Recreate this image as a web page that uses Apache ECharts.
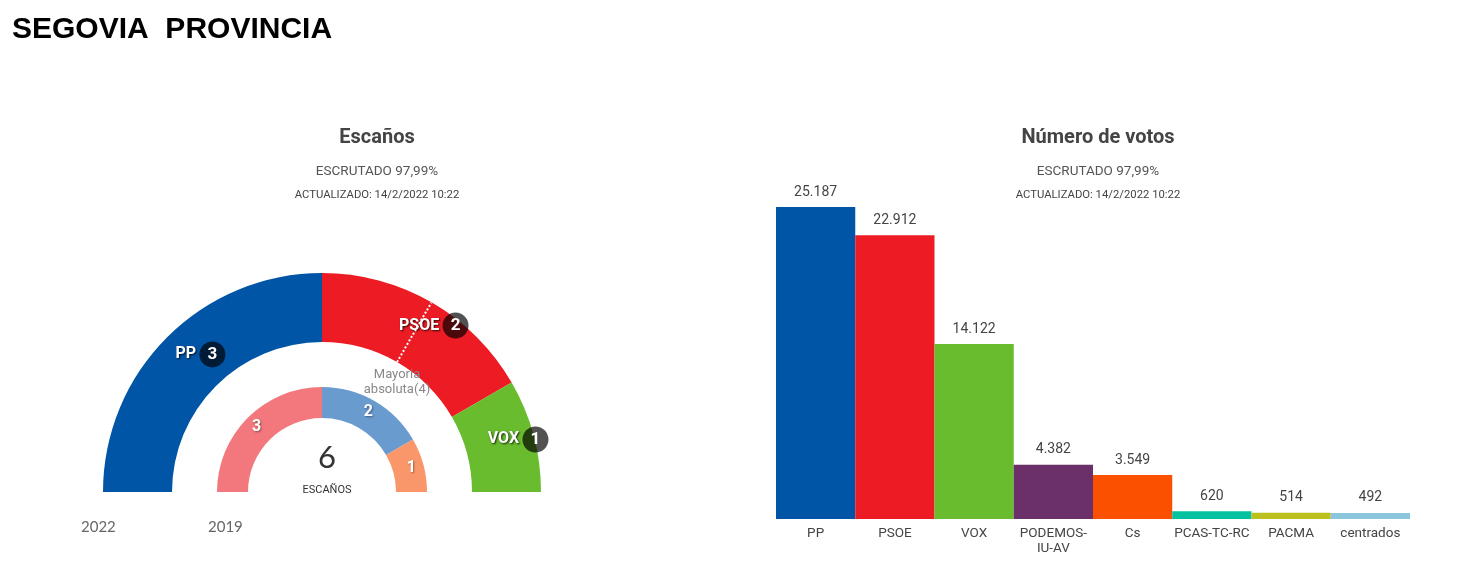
<!DOCTYPE html>
<html>
<head>
<meta charset="utf-8">
<script src="https://cdn.jsdelivr.net/npm/echarts@6/dist/echarts.min.js"></script>
<style>
html,body{margin:0;padding:0;background:#fff;}
#c{width:1471px;height:561px;}
</style>
</head>
<body>
<div id="c"></div>
<script>
// ---- data ----
var seatParties2022 = ['PP', 'PSOE', 'VOX'];
var seats2022 = [3, 2, 1];
var seatParties2019 = ['PSOE', 'PP', 'Cs'];
var seats2019 = [3, 2, 1];
var majority = 4;
var voteParties = ['PP', 'PSOE', 'VOX', 'PODEMOS-\nIU-AV', 'Cs', 'PCAS-TC-RC', 'PACMA', 'centrados'];
var votes = [25187, 22912, 14122, 4382, 3549, 620, 514, 492];
var scrutinyText = 'ESCRUTADO 97,99%';
var updatedText = 'ACTUALIZADO: 14/2/2022 10:22';

// ---- styles ----
var colors2022 = ['#0055a6', '#ed1c24', '#69bc2d'];
var colors2019 = ['#f2787d', '#6a9bcf', '#f9976b'];
var voteColors = ['#0055a6', '#ed1c24', '#69bc2d', '#6b2f69', '#fa5000', '#03c2a0', '#bcc01e', '#8ac6dc'];
var labelShift = [[11, -5], [18, -4], [15, -4]];
var CX = 322, CY = 492, R_OUT = 219, R_IN = 150;

var totalSeats = seats2022.reduce(function (a, b) { return a + b; }, 0);
function fmt(v) { return String(v).replace(/\B(?=(\d{3})+(?!\d))/g, '.'); }
var condensed = 'Roboto, sans-serif';

var chart = echarts.init(document.getElementById('c'), null, { renderer: 'canvas' });
chart.setOption({
  animation: false,
  backgroundColor: '#fff',
  title: [
    { text: 'SEGOVIA  PROVINCIA', left: 7, top: 10, textStyle: { fontFamily: 'Liberation Sans, Arial, sans-serif', fontWeight: 'bold', fontSize: 30, color: '#000' } },
    { text: 'Escaños', left: 372, textAlign: 'center', top: 123, textStyle: { fontFamily: condensed, fontWeight: 'bold', fontSize: 20, color: '#444' } },
    { text: scrutinyText, left: 372, textAlign: 'center', top: 160, textStyle: { fontFamily: condensed, fontWeight: 'normal', fontSize: 13.5, color: '#555' } },
    { text: updatedText, left: 372, textAlign: 'center', top: 185, textStyle: { fontFamily: condensed, fontWeight: 'normal', fontSize: 11.3, color: '#444' } },
    { text: 'Número de votos', left: 1093, textAlign: 'center', top: 123, textStyle: { fontFamily: condensed, fontWeight: 'bold', fontSize: 20, color: '#444' } },
    { text: scrutinyText, left: 1093, textAlign: 'center', top: 160, textStyle: { fontFamily: condensed, fontWeight: 'normal', fontSize: 13.5, color: '#555' } },
    { text: updatedText, left: 1093, textAlign: 'center', top: 185, textStyle: { fontFamily: condensed, fontWeight: 'normal', fontSize: 11.3, color: '#444' } },
    { text: String(totalSeats), left: CX, textAlign: 'center', top: 437, textStyle: { fontFamily: 'Lato, sans-serif', fontWeight: 'normal', fontSize: 31, color: '#333' } },
    { text: 'ESCAÑOS', left: CX, textAlign: 'center', top: 480, textStyle: { fontFamily: condensed, fontWeight: 'normal', fontSize: 11, color: '#333' } },
    { text: '2022', left: 76, top: 515, textStyle: { fontFamily: 'Lato, sans-serif', fontWeight: 'normal', fontSize: 15, color: '#666' } },
    { text: '2019', left: 203, top: 515, textStyle: { fontFamily: 'Lato, sans-serif', fontWeight: 'normal', fontSize: 15, color: '#666' } }
  ],
  polar: { center: [CX, CY], radius: R_OUT },
  angleAxis: { type: 'value', min: 0, max: totalSeats * 2, startAngle: 180, clockwise: true, show: false },
  radiusAxis: { type: 'value', min: 0, max: R_OUT, show: false },
  grid: { left: 776, right: 61, top: 207, bottom: 42 },
  xAxis: {
    type: 'category', data: voteParties,
    axisLine: { show: false }, axisTick: { show: false },
    axisLabel: { color: '#444', fontFamily: condensed, fontSize: 13.5, margin: 7, lineHeight: 15, interval: 0 }
  },
  yAxis: { type: 'value', min: 0, max: 'dataMax', show: false, splitLine: { show: false } },
  series: [
    {
      type: 'pie', silent: true, center: [CX, CY], radius: [R_IN, R_OUT],
      startAngle: 180, endAngle: 0, clockwise: true,
      data: seatParties2022.map(function (n, i) { return { name: n, value: seats2022[i], itemStyle: { color: colors2022[i] } }; }),
      label: {
        show: true, position: 'inside',
        formatter: function (p) { return '{n|' + p.name + '} {c|' + p.value + '}'; },
        rich: {
          n: { color: '#fff', fontFamily: condensed, fontWeight: 'bold', fontSize: 16, textShadowColor: 'rgba(0,0,0,0.8)', textShadowBlur: 2, textShadowOffsetX: 1, textShadowOffsetY: 1 },
          c: { color: '#fff', fontFamily: condensed, fontWeight: 'bold', fontSize: 17, backgroundColor: 'rgba(0,0,0,0.68)', borderRadius: 13, width: 26, height: 26, align: 'center', lineHeight: 26 }
        }
      },
      labelLayout: function (p) { var s = labelShift[p.dataIndex] || [0, 0]; return { dx: s[0], dy: s[1] }; },
      labelLine: { show: false },
      emphasis: { disabled: true }
    },
    {
      type: 'pie', silent: true, center: [CX, CY], radius: [74, 105],
      startAngle: 180, endAngle: 0, clockwise: true,
      data: seatParties2019.map(function (n, i) { return { name: n, value: seats2019[i], itemStyle: { color: colors2019[i] } }; }),
      label: {
        show: true, position: 'inside', formatter: '{c}',
        color: '#fff', fontFamily: condensed, fontWeight: 'bold', fontSize: 16,
        textShadowColor: 'rgba(0,0,0,0.4)', textShadowBlur: 2, textShadowOffsetX: 1, textShadowOffsetY: 1
      },
      labelLine: { show: false },
      emphasis: { disabled: true }
    },
    {
      type: 'line', coordinateSystem: 'polar', silent: true, z: 5,
      symbol: 'circle', symbolSize: 1, itemStyle: { color: 'rgba(0,0,0,0)' },
      lineStyle: { color: '#fff', width: 2, type: [2, 2] },
      data: [
        { value: [R_IN, majority], label: { show: true, position: 'bottom', distance: 5, formatter: 'Mayoria\nabsoluta(' + majority + ')', color: '#888', fontFamily: condensed, fontSize: 13, lineHeight: 15 } },
        [R_OUT, majority]
      ]
    },
    {
      type: 'bar', silent: true, barCategoryGap: '0%',
      data: votes.map(function (v, i) { return { value: v, itemStyle: { color: voteColors[i] } }; }),
      label: { show: true, position: 'top', distance: 8, color: '#444', fontFamily: condensed, fontSize: 14, formatter: function (p) { return fmt(p.value); } }
    }
  ]
});
</script>
</body>
</html>
